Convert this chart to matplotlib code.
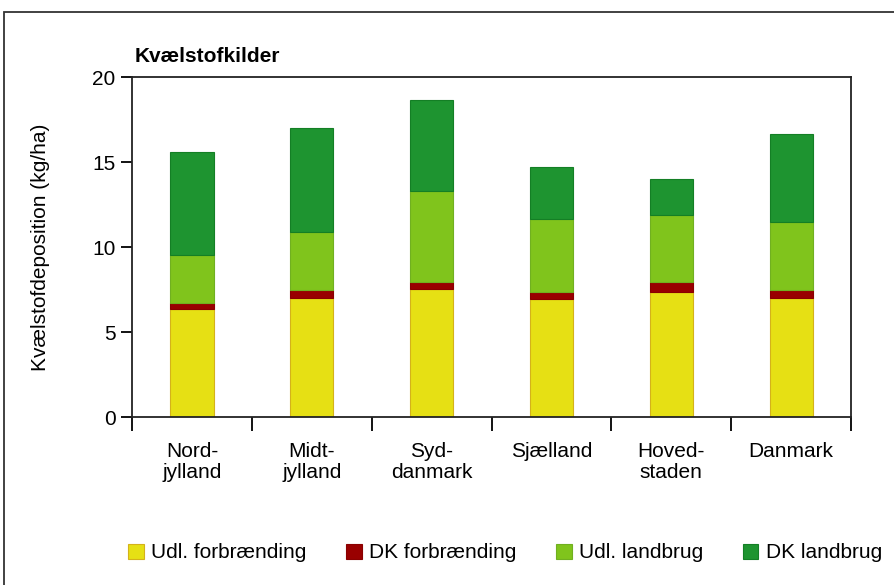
import numpy as np
import matplotlib.pyplot as plt
from matplotlib.patches import Rectangle

plt.rcParams['font.family'] = ['Liberation Sans', 'DejaVu Sans']

regions = ['Nord-\njylland', 'Midt-\njylland', 'Syd-\ndanmark', 'Sjælland', 'Hoved-\nstaden', 'Danmark']
udl_forbr = [6.35, 7.0, 7.53, 6.94, 7.35, 7.0]
dk_forbr = [0.35, 0.47, 0.41, 0.41, 0.59, 0.47]
udl_landbrug = [2.83, 3.41, 5.36, 4.30, 3.94, 4.00]
dk_landbrug = [6.07, 6.12, 5.35, 3.05, 2.12, 5.18]

series = [
    ('Udl. forbrænding', udl_forbr, '#E6E014', '#D4B21A'),
    ('DK forbrænding', dk_forbr, '#990000', '#8A0000'),
    ('Udl. landbrug', udl_landbrug, '#80C41C', '#70B020'),
    ('DK landbrug', dk_landbrug, '#1E9430', '#147F25'),
]

fs = 15

fig = plt.figure(figsize=(8.94, 5.85), dpi=100)
ax = fig.add_axes([0.1477, 0.287, 0.952 - 0.1477, 0.868 - 0.287])

# outer frame
fig.patches.append(Rectangle((4 / 894, -0.05), 1.2, 1 - 12 / 585 + 0.05,
                             transform=fig.transFigure, fill=False,
                             edgecolor='#333333', linewidth=1.3))

x = np.arange(len(regions))
bottom = np.zeros(len(regions))
for name, vals, col, edge in series:
    ax.bar(x, vals, 0.36, bottom=bottom, color=col, edgecolor=edge,
           linewidth=0.8, label=name, zorder=2)
    bottom += np.array(vals)

ax.set_xlim(-0.5, len(regions) - 0.5)
ax.set_ylim(0, 20)
ax.set_yticks([0, 5, 10, 15, 20])
ax.set_xticks(np.arange(len(regions) + 1) - 0.5)
ax.set_xticklabels([])
ax.set_xticks(x, minor=True)
ax.set_xticklabels(regions, minor=True, fontsize=fs, linespacing=1.15)
ax.tick_params(axis='x', which='minor', length=0, pad=18)
ax.tick_params(axis='x', which='major', length=10, width=1.3, direction='out')
ax.tick_params(axis='y', length=8, width=1.3, labelsize=fs, pad=4)
for s in ax.spines.values():
    s.set_linewidth(1.3)
    s.set_color('#222222')

ax.set_ylabel('Kvælstofdeposition (kg/ha)', fontsize=fs, labelpad=30)
ax.text(0.004, 1.06, 'Kvælstofkilder', transform=ax.transAxes,
        fontsize=fs, fontweight='bold', va='center', ha='left')

fig.legend(loc='center', bbox_to_anchor=(0.565, 1 - 553 / 585), ncol=4,
           frameon=False, fontsize=fs, handlelength=0.75, handleheight=0.75,
           handletextpad=0.35, columnspacing=1.9)

fig.savefig('out.png', dpi=100)
